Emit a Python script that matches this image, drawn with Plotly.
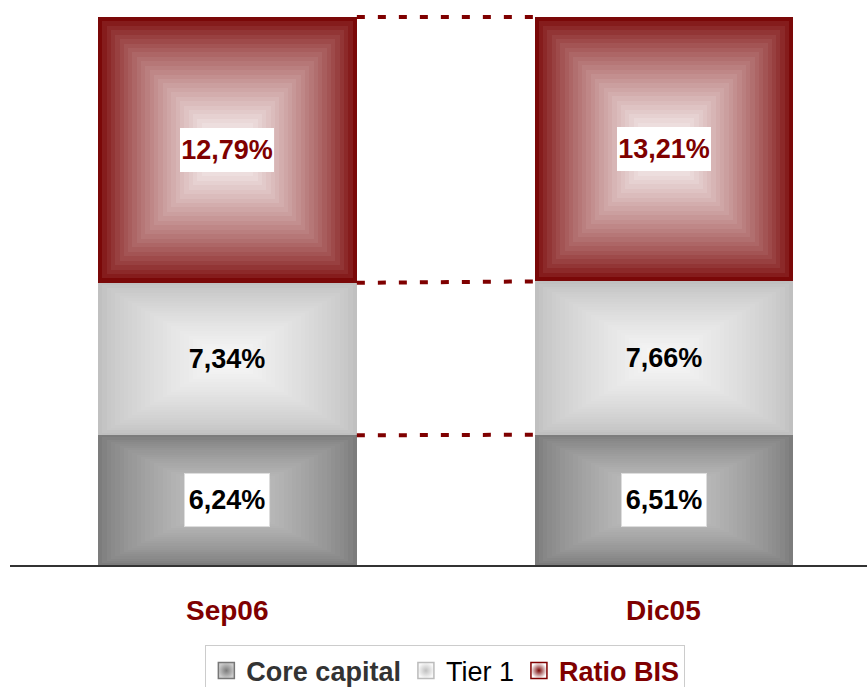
import plotly.graph_objects as go

categories = ["Sep06", "Dic05"]
core_capital = [6.24, 6.51]
tier1 = [7.34, 7.66]
ratio_bis = [12.79, 13.21]
series_names = ["Core capital", "Tier 1", "Ratio BIS"]

DARK_RED = "#7f0000"
edge_cols = [(0x7c, 0x7c, 0x7c), (0xc0, 0xc0, 0xc0), (0x7a, 0x08, 0x08)]
center_cols = [(0xcc, 0xcc, 0xcc), (0xf8, 0xf8, 0xf8), (0xff, 0xff, 0xff)]

series = [core_capital, tier1, ratio_bis]
xs = list(range(len(categories)))
totals = [sum(s[i] for s in series) for i in xs]
pct = [[s[i] / totals[i] * 100 for i in xs] for s in series]
bases = []
cum = [0.0] * len(xs)
for p in pct:
    bases.append(cum[:])
    cum = [cum[i] + p[i] for i in xs]

BAR_W = 0.593
N = 30

def mix(a, b, t):
    return "rgb(%d,%d,%d)" % tuple(round(a[j] + (b[j] - a[j]) * t) for j in range(3))

fig = go.Figure()
for si, p in enumerate(pct):
    for k in range(N):
        f = 1 - k / N
        t = (k / (N - 1)) ** 0.75
        h = [p[i] * f for i in xs]
        mid = [bases[si][i] + p[i] / 2 for i in xs]
        fig.add_trace(go.Bar(
            x=xs, y=h, base=[mid[i] - h[i] / 2 for i in xs],
            width=BAR_W * f,
            marker=dict(color=mix(edge_cols[si], center_cols[si], t), line=dict(width=0)),
            showlegend=False, hoverinfo="skip",
        ))

# connecting dotted lines
for si in range(len(series)):
    tops = [bases[si][i] + pct[si][i] for i in xs]
    fig.add_trace(go.Scatter(
        x=[xs[0] + BAR_W / 2, xs[1] - BAR_W / 2], y=tops, mode="lines",
        line=dict(color=DARK_RED, width=4, dash="8px,13px"),
        showlegend=False, hoverinfo="skip",
    ))

# legend entries
legend_names = [
    "<b><span style='color:#333333'>Core capital</span></b>",
    "<span style='color:#000000'>Tier 1</span>",
    "<b><span style='color:#7f0000'>Ratio BIS</span></b>",
]
legend_line = ["#777777", "#bbbbbb", DARK_RED]
for si in range(len(series)):
    fig.add_trace(go.Scatter(
        x=[None], y=[None], mode="markers", name=legend_names[si],
        marker=dict(symbol="square", size=16, color=mix(center_cols[si], center_cols[si], 0),
                    gradient=dict(type="radial", color=mix(edge_cols[si], edge_cols[si], 0)),
                    line=dict(width=1.5, color=legend_line[si])),
    ))

# value labels
for si, s in enumerate(series):
    for i in xs:
        fig.add_annotation(
            x=xs[i], y=bases[si][i] + pct[si][i] / 2,
            text="<b>%s%%</b>" % ("%.2f" % s[i]).replace(".", ","),
            showarrow=False,
            font=dict(family="Liberation Sans, Arial", size=27,
                      color=DARK_RED if si == 2 else "#000000"),
            bgcolor="#ffffff" if si != 1 else "rgba(0,0,0,0)",
            bordercolor="#dddddd" if si == 0 else "rgba(0,0,0,0)",
            borderwidth=1 if si == 0 else 0,
            width=82 if si == 0 else 92, height=50 if si == 0 else 42,
        )

for i in xs:
    fig.add_annotation(
        x=xs[i], y=-0.082, yref="paper", yanchor="middle",
        text="<b>%s</b>" % categories[i], showarrow=False,
        font=dict(family="Liberation Sans, Arial", size=28, color=DARK_RED),
    )

fig.update_layout(
    width=867, height=687,
    margin=dict(l=10, r=0, t=14, b=122, autoexpand=False),
    barmode="overlay", bargap=0,
    paper_bgcolor="white", plot_bgcolor="white",
    xaxis=dict(range=[-0.498, 1.465], showgrid=False, zeroline=False,
               showticklabels=False, ticks="", showline=True,
               linecolor="#333333", linewidth=1.5),
    yaxis=dict(range=[0, 100.55], visible=False),
    legend=dict(orientation="h", x=0.508, xanchor="center", y=-0.146, yanchor="top",
                font=dict(family="Liberation Sans, Arial", size=27, color="#000000"),
                bordercolor="#cccccc", borderwidth=1, bgcolor="white",
                itemclick=False),
    showlegend=True,
)

fig.write_html("out.html")
